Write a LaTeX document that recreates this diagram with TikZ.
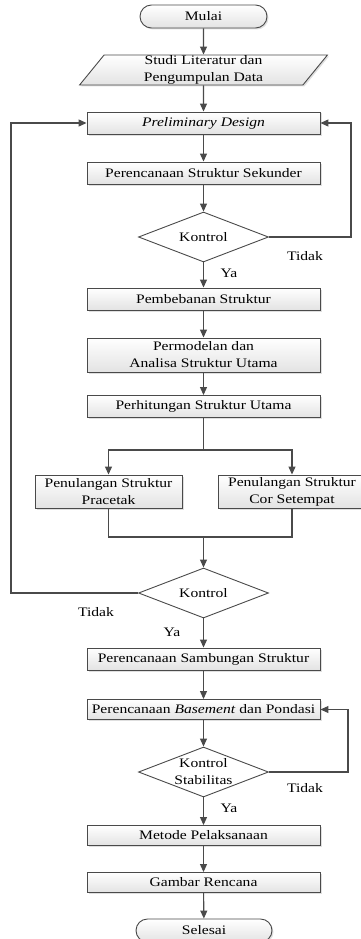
\documentclass[tikz,border=0pt]{standalone}
\usepackage{fontspec}
\setmainfont[FakeStretch=1.2]{Liberation Serif}
\usetikzlibrary{arrows.meta,shapes.geometric,shapes.misc,shadows}
\definecolor{ln}{HTML}{4A4A4A}
\begin{document}
\begin{tikzpicture}[x=1pt,y=-1pt,
  font=\fontsize{13}{17}\selectfont,
  shade/.style={top color=white, bottom color=gray!22,
    drop shadow={shadow xshift=1.5pt,shadow yshift=-1.5pt,fill=gray!50}},
  box/.style={shade, draw=ln, line width=0.9pt, minimum width=233pt,
    minimum height=22pt, inner sep=1pt, align=center},
  sbox/.style={box, minimum width=147pt, minimum height=33pt},
  term/.style={shade, draw=ln, line width=0.9pt, rounded rectangle,
    minimum height=23pt, inner sep=1pt},
  dec/.style={diamond, draw=ln, line width=0.9pt, fill=white, aspect=2.6,
    minimum width=130pt, minimum height=50pt, inner sep=0pt, align=center},
  io/.style={shade, draw=ln, line width=0.9pt, trapezium,
    trapezium left angle=63, trapezium right angle=117, trapezium stretches=true,
    minimum width=248pt, minimum height=30pt, inner sep=0pt, align=center},
  lin/.style={draw=ln, line width=1.1pt},
  arr/.style={lin, -{Triangle[length=8pt,width=7pt]}},
  lab/.style={inner sep=0pt}
]
\useasboundingbox (0,0) rectangle (360,939);
% nodes
\node[term, minimum width=129pt] (mulai) at (203.5,16.5) {Mulai};
\node[io] (studi) at (203.5,70) {Studi Literatur dan\\Pengumpulan Data};
\node[box] (prelim) at (203.5,123) {\textit{Preliminary Design}};
\node[box] (sek) at (203.5,173) {Perencanaan Struktur Sekunder};
\node[dec] (k1) at (203.5,237) {Kontrol};
\node[box] (pemb) at (203.5,299) {Pembebanan Struktur};
\node[box, minimum height=34pt] (perm) at (203.5,355) {Permodelan dan\\Analisa Struktur Utama};
\node[box] (perh) at (203.5,406.5) {Perhitungan Struktur Utama};
\node[sbox] (prac) at (108.5,491.5) {Penulangan Struktur\\Pracetak};
\node[sbox] (cor) at (292,491.5) {Penulangan Struktur\\Cor Setempat};
\node[dec] (k2) at (203.5,593) {Kontrol};
\node[box] (samb) at (203.5,659) {Perencanaan Sambungan Struktur};
\node[box, minimum height=20pt] (base) at (203.5,709.5) {Perencanaan \textit{Basement} dan Pondasi};
\node[dec] (k3) at (203.5,772) {Kontrol\\Stabilitas};
\node[box, minimum height=20pt] (met) at (203.5,835.5) {Metode Pelaksanaan};
\node[box, minimum height=20pt] (gam) at (203.5,882.5) {Gambar Rencana};
\node[term, minimum width=138pt] (sel) at (204,930.5) {Selesai};
% labels
\node[lab] (t1) at (305,256) {Tidak};
\node[lab] (y1) at (229,273) {Ya};
\node[lab] (t2) at (96,612) {Tidak};
\node[lab] (y2) at (172,632) {Ya};
\node[lab] (t3) at (305,788) {Tidak};
\node[lab] (y3) at (229,808) {Ya};
% helper coordinates
\coordinate (r1) at (351,123);
\coordinate (l2) at (11,123);
\coordinate (r3) at (348,709.5);
\coordinate (j1) at (203.5,450);
\coordinate (j2) at (203.5,537);
% connectors
\draw[arr] (mulai) -- (studi);
\draw[arr] (studi) -- (prelim);
\draw[arr] (prelim) -- (sek);
\draw[arr] (sek) -- (k1);
\draw[arr] (k1.east) -| (r1) -- (prelim.east);
\draw[arr] (k1) -- (pemb);
\draw[arr] (pemb) -- (perm);
\draw[arr] (perm) -- (perh);
\draw[lin] (perh.south) -- (j1);
\draw[arr] (j1) -| (prac.north);
\draw[arr] (j1) -| (cor.north);
\draw[lin] (prac.south) |- (j2);
\draw[lin] (cor.south) |- (j2);
\draw[arr] (j2) -- (k2);
\draw[arr] (k2.west) -| (l2) -- (prelim.west);
\draw[arr] (k2) -- (samb);
\draw[arr] (samb) -- (base);
\draw[arr] (base) -- (k3);
\draw[arr] (k3.east) -| (r3) -- (base.east);
\draw[arr] (k3) -- (met);
\draw[arr] (met) -- (gam);
\draw[arr] (gam) -- (sel);
\end{tikzpicture}
\end{document}
